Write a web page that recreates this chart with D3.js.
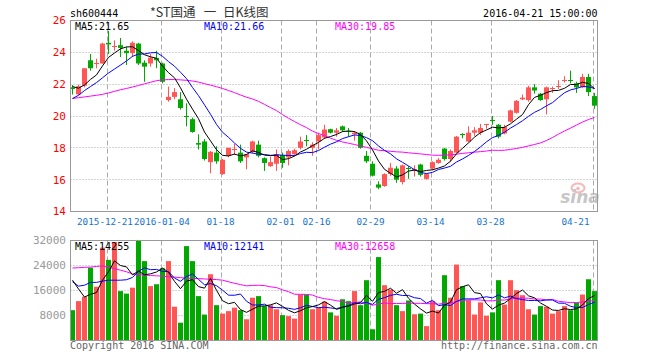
<!DOCTYPE html>
<html><head><meta charset="utf-8">
<script src="https://cdn.jsdelivr.net/npm/d3@7"></script>
<style>body{margin:0;background:#fff}svg{display:block}</style>
</head><body>
<svg id="c" width="660" height="360"></svg>
<script>
const open=[21.8,21.36,21.9,23.5,23.3,23.3,24.6,24.35,24.45,24.1,23.95,24.55,23.35,23.3,23.65,23.3,21.0,21.2,21.05,20.0,19.8,18.3,18.4,17.1,17.7,16.35,17.5,17.85,17.7,17.4,17.75,18.2,17.35,16.85,17.0,17.55,17.4,17.6,18.0,18.5,18.0,18.4,18.65,19.17,18.95,19.35,19.05,18.85,18.95,17.5,17.0,15.7,15.6,16.35,16.7,15.85,16.75,16.6,16.95,16.05,16.7,17.05,17.95,17.3,17.7,18.85,18.4,18.95,18.95,19.45,19.75,19.45,18.9,19.65,20.2,21.05,21.0,21.8,21.4,21.05,21.7,21.85,22.2,22.25,22.05,21.8,22.45,21.25];
const high=[21.95,21.97,23.0,23.9,23.6,24.6,25.35,24.75,24.9,24.35,24.7,24.6,23.5,23.9,24.1,23.35,21.85,21.75,21.5,20.8,19.9,18.85,18.55,17.8,18.1,17.3,18.0,18.25,18.2,17.6,18.45,18.45,17.4,17.45,17.9,17.7,17.9,17.95,18.7,18.8,18.35,18.95,19.45,19.2,19.25,19.4,19.25,19.05,19.0,17.8,17.15,15.9,16.4,17.05,16.85,16.95,16.85,16.9,17.0,16.4,17.15,17.35,18.0,17.9,18.75,18.92,19.35,19.3,19.5,19.5,20.0,19.5,19.45,20.4,21.0,21.35,21.9,22.0,21.45,21.85,21.85,22.25,22.5,22.85,22.15,22.65,22.65,21.45];
const low=[21.35,21.3,21.8,22.85,23.0,23.3,23.9,24.1,23.7,23.2,23.7,23.2,22.15,23.1,23.0,22.05,20.9,21.05,20.4,19.35,18.95,17.9,17.2,16.4,17.0,16.3,17.4,17.55,17.05,16.65,17.65,17.4,16.55,16.8,16.55,16.75,16.9,17.5,17.9,18.1,17.5,17.9,18.55,18.9,18.7,19.0,18.7,18.45,17.95,17.05,16.2,15.4,15.55,16.25,15.8,15.7,16.05,16.2,16.2,16.0,16.6,17.0,17.2,17.1,17.65,18.6,18.35,18.75,18.8,19.2,19.45,18.6,18.85,19.6,20.15,21.0,20.9,21.4,20.95,20.1,21.45,21.7,22.1,22.05,21.45,21.75,21.25,20.45];
const close=[21.7,21.87,23.0,23.0,23.35,24.55,24.5,24.4,24.28,23.95,24.6,23.3,23.1,23.67,23.5,22.15,21.2,21.5,20.5,19.95,19.0,18.2,17.3,17.75,17.15,17.25,18.0,17.92,17.15,17.6,18.4,17.5,17.05,17.1,17.6,17.05,17.8,17.85,18.4,18.45,18.2,18.8,19.15,18.95,19.1,19.1,19.0,18.95,18.0,17.15,16.25,15.5,16.35,16.75,16.0,16.9,16.7,16.65,16.3,16.35,17.1,17.25,17.3,17.8,18.7,18.8,18.95,19.1,19.25,19.5,19.7,18.7,19.3,20.35,20.95,21.15,21.8,21.6,21.0,21.8,21.75,21.9,22.25,22.2,21.8,22.45,21.5,20.65];
const volume=[9700,12600,14000,23300,17200,29700,25800,31500,15800,15000,16900,32000,25400,17400,18000,23100,25400,10800,5700,30200,25400,14200,8300,21200,11300,8600,9400,10500,9700,6800,13700,14200,11000,11300,10000,8100,7800,7000,14700,14700,10000,10500,12400,9000,7900,13200,12600,15800,11300,19300,3600,26700,17700,16300,11300,9400,12800,8400,8600,4600,12600,9700,20900,13700,24300,17400,12900,8300,12200,7900,9000,19300,11500,19300,16100,14500,10000,8300,11000,10800,8600,9400,11000,9700,12100,14700,19600,15800];
const ma5=[21.85,21.75,21.95,22.3,22.58,23.15,23.68,23.96,24.22,24.34,24.35,24.11,23.85,23.72,23.63,23.14,22.72,22.40,21.77,21.06,20.43,19.83,18.99,18.44,17.88,17.53,17.49,17.61,17.49,17.58,17.81,17.71,17.54,17.53,17.53,17.26,17.32,17.48,17.74,17.91,18.14,18.34,18.6,18.71,18.84,19.02,19.06,19.02,18.83,18.44,17.87,17.17,16.65,16.4,16.17,16.3,16.54,16.6,16.51,16.58,16.62,16.73,16.86,17.16,17.63,17.97,18.31,18.67,18.96,19.12,19.3,19.25,19.29,19.51,19.8,20.09,20.71,21.17,21.3,21.47,21.59,21.61,21.74,21.98,21.98,22.12,22.04,21.72];
const ma10=[21.1,21.3,21.6,21.85,22.1,22.4,22.7,22.95,23.2,23.46,23.75,23.89,23.9,23.97,23.99,23.75,23.42,23.13,22.75,22.35,21.79,21.28,20.7,20.11,19.47,18.98,18.66,18.3,17.97,17.73,17.67,17.6,17.58,17.51,17.56,17.54,17.52,17.51,17.64,17.72,17.7,17.83,18.04,18.23,18.38,18.58,18.7,18.81,18.77,18.64,18.45,18.12,17.84,17.62,17.31,17.09,16.86,16.63,16.46,16.38,16.46,16.64,16.73,16.84,17.11,17.3,17.52,17.77,18.06,18.38,18.64,18.78,18.98,19.24,19.46,19.7,19.98,20.23,20.41,20.64,20.84,21.16,21.46,21.64,21.73,21.86,21.83,21.73];
const ma30=[21.1,21.15,21.2,21.25,21.3,21.36,21.45,21.55,21.65,21.73,21.82,21.92,22.02,22.12,22.22,22.27,22.29,22.29,22.27,22.24,22.2,22.13,22.03,21.94,21.84,21.73,21.6,21.47,21.32,21.18,21.07,20.92,20.73,20.53,20.34,20.09,19.86,19.65,19.45,19.27,19.05,18.9,18.77,18.61,18.47,18.37,18.29,18.21,18.12,18.03,17.94,17.85,17.82,17.78,17.75,17.73,17.69,17.65,17.62,17.58,17.54,17.53,17.54,17.56,17.6,17.65,17.69,17.73,17.76,17.8,17.85,17.84,17.85,17.9,17.96,18.03,18.12,18.21,18.31,18.46,18.65,18.86,19.06,19.24,19.43,19.62,19.78,19.91];
const vma5=[19300,16500,13900,14800,15340,19330,21980,25480,23990,23560,21000,22240,21020,21340,21930,23170,21850,18930,16580,19010,19480,17240,16750,19860,16090,12740,11780,12210,9900,9010,10010,10970,11080,11400,12040,10930,9650,8860,9540,10480,10860,11390,12460,11310,9950,10590,11010,11690,12160,14450,12530,15340,15730,16730,15130,16280,13510,11650,10110,8770,9410,8790,11290,12290,16240,17200,17840,15320,15020,11740,10050,11330,11970,13400,15040,16150,14300,13660,11990,10930,9750,9620,10160,9900,10160,11370,13420,14380];
const vma10=[18800,17400,17700,18600,18600,19000,19300,19300,19300,19450,20170,22110,23250,22660,22750,22090,22040,19970,18960,20470,21330,19550,17840,18220,17550,16110,14510,14480,14880,12550,11370,11370,11640,10650,10520,10470,10310,9970,10470,11260,10890,10520,10660,10420,10210,10720,11200,12080,11740,12200,11560,13180,13710,14450,14790,14400,14420,13690,13420,11950,12850,11150,11470,11200,12510,13310,13320,13310,13660,13990,13630,14590,13650,14210,13390,13100,12810,12810,12700,12980,12950,11960,11910,10950,10540,10560,11520,12270];
const vma30=[23200,23300,23400,23500,23700,23900,23400,23000,22500,22000,21300,21100,20900,20800,20700,20600,20400,20300,20100,20000,19900,19800,19700,19600,19500,19300,18800,18300,17900,17490,17620,17680,17580,17180,16940,16220,15620,14810,14770,14760,14530,13810,13380,13100,12760,12430,12010,12170,12360,12000,11270,11690,12000,11840,11840,11860,11980,11910,11880,11800,11760,11620,11950,12020,12500,12810,12980,13020,12940,12710,12680,12970,12940,13290,13560,13600,13520,13270,13260,12970,13140,12560,12340,12120,12150,12320,12550,12800];
const tickIdx=[6,15,25,35,41,50,60,70,87];
const tickLabels=['2015-12-21','2016-01-04','01-18','02-01','02-16','02-29','03-14','03-28','04-21'];
const priceTicks=[14,16,18,20,22,24,26];
const volTicks=[8000,16000,24000,32000];
const priceLegend=['MA5:21.65','MA10:21.66','MA30:19.85'];
const volLegend=['MA5:14255','MA10:12141','MA30:12658'];
const titleCode='sh600444', titleParts=['*ST国通','一','日K线图'], stamp='2016-04-21 15:00:00';

const RED='#ff5555', GREEN='#00a800', GRID='#aaaaaa', BORDER='#999999';
const MONO='"DejaVu Sans Mono", monospace';
const svg=d3.select('#c');
svg.append('rect').attr('width',660).attr('height',360).attr('fill','#fff');
const L=70.5,R=597.5,T1=20.5,B1=211.5,T2=240.5,B2=340.5;
const n=close.length;
const x=d3.scaleLinear().domain([0,n-1]).range([72.5,594.5]);
const y=d3.scaleLinear().domain([14,26]).range([B1,T1]);
const yv=d3.scaleLinear().domain([0,32000]).range([B2,T2]);
const col=i=>close[i]>=open[i]?RED:GREEN;

function panel(top,bottom,ys,ticks,isPrice){
  const g=svg.append('g');
  ticks.forEach(t=>{const yy=Math.round(ys(t)-0.5)+0.5; if(yy>top+1&&yy<bottom-1)
    g.append('line').attr('x1',L).attr('x2',R).attr('y1',yy).attr('y2',yy)
     .attr('stroke',GRID).attr('stroke-dasharray','1,2');});
  tickIdx.forEach(i=>{const xx=Math.round(x(i)-2)+0.5;
    g.append('line').attr('x1',xx).attr('x2',xx).attr('y1',top).attr('y2',bottom)
     .attr('stroke',GRID).attr('stroke-dasharray','5,3');});
  ticks.forEach(t=>{g.append('text').attr('x',66).attr('y',ys(t)).attr('dy','0.36em')
     .attr('text-anchor','end').attr('font-family',MONO).attr('font-size',11)
     .attr('fill',isPrice?'#ff0000':'#999999').text(t);});
  return g;
}
panel(T1,B1,y,priceTicks,true);
panel(T2,B2,yv,volTicks,false);

const cg=svg.append('g');
close.forEach((c,i)=>{
  const cx=x(i), color=col(i);
  cg.append('line').attr('x1',cx).attr('x2',cx).attr('y1',y(high[i])).attr('y2',y(low[i])).attr('stroke',color);
  const top=y(Math.max(open[i],c)), bot=y(Math.min(open[i],c));
  if(bot-top<1.5){cg.append('line').attr('x1',cx-2.5).attr('x2',cx+2.5).attr('y1',Math.round(top)+0.5).attr('y2',Math.round(top)+0.5).attr('stroke',color);}
  else cg.append('rect').attr('x',cx-2.5).attr('width',5).attr('y',top).attr('height',bot-top).attr('fill',color);
});
volume.forEach((v,i)=>{
  svg.append('rect').attr('x',x(i)-2.5).attr('width',5).attr('y',yv(v)).attr('height',B2-yv(v)).attr('fill',col(i));
});
const lineP=d3.line().x((d,i)=>x(i)).y(d=>y(d));
const lineV=d3.line().x((d,i)=>x(i)).y(d=>yv(d));
const lineCols=['#000000','#0000ff','#ff00ff'];
svg.append('clipPath').attr('id','cp').append('rect').attr('x',L).attr('y',T1).attr('width',R-L).attr('height',B1-T1);
svg.append('clipPath').attr('id','cv').append('rect').attr('x',L).attr('y',T2).attr('width',R-L).attr('height',B2-T2);
[ma30,ma10,ma5].forEach((s,k)=>svg.append('path').attr('d',lineP(s)).attr('fill','none').attr('stroke',lineCols[2-k]).attr('stroke-width',1).attr('clip-path','url(#cp)'));
[vma30,vma10,vma5].forEach((s,k)=>svg.append('path').attr('d',lineV(s)).attr('fill','none').attr('stroke',lineCols[2-k]).attr('stroke-width',1).attr('clip-path','url(#cv)'));

[[T1,B1],[T2,B2]].forEach(([t,b])=>svg.append('rect').attr('x',L).attr('y',t).attr('width',R-L).attr('height',b-t).attr('fill','none').attr('stroke',BORDER));

const legX=[75,204,335];
priceLegend.forEach((s,k)=>svg.append('text').attr('x',legX[k]).attr('y',30).attr('font-family',MONO).attr('font-size',10).attr('fill',lineCols[k]).text(s));
volLegend.forEach((s,k)=>svg.append('text').attr('x',legX[k]).attr('y',249.5).attr('font-family',MONO).attr('font-size',10).attr('fill',lineCols[k]).text(s));

// x labels (slightly narrowed so neighbours do not collide)
const xl=tickIdx.map((i,k)=>{const w=tickLabels[k].length*5.6;return {k,w,c:Math.min(x(i)-2,R-8-w/2)};});
for(let k=1;k<xl.length;k++){const gap=(xl[k].c-xl[k].w/2)-(xl[k-1].c+xl[k-1].w/2);
  if(gap<1){const d=(1-gap)/2; xl[k-1].c-=d; xl[k].c+=d;}}
xl.forEach(o=>svg.append('text').attr('x',o.c).attr('y',224.5).attr('text-anchor','middle')
  .attr('font-family',MONO).attr('font-size',9.3).attr('fill','#1874cd').text(tickLabels[o.k]));

svg.append('text').attr('x',70).attr('y',16.5).attr('font-family',MONO).attr('font-size',10).attr('fill','#000').text(titleCode);
const CJK='"Noto Sans CJK SC", sans-serif';
svg.append('text').attr('x',150).attr('y',17).attr('font-family',CJK).attr('font-size',12.5).attr('fill','#333').text(titleParts[0]);
svg.append('text').attr('x',210).attr('y',17).attr('text-anchor','middle').attr('font-family',CJK).attr('font-size',12.5).attr('fill','#333').text(titleParts[1]);
svg.append('text').attr('x',223).attr('y',17).attr('font-family',CJK).attr('font-size',12.5).attr('fill','#333').text(titleParts[2]);
svg.append('text').attr('x',R).attr('y',16.5).attr('text-anchor','end').attr('font-family',MONO).attr('font-size',10).attr('fill','#000').text(stamp);

svg.append('text').attr('x',70).attr('y',349).attr('font-family',MONO).attr('font-size',10).attr('fill','#666').text('Copyright 2016 SINA.COM');
svg.append('text').attr('x',R).attr('y',349).attr('text-anchor','end').attr('font-family',MONO).attr('font-size',10).attr('fill','#666').text('http://finance.sina.com.cn');

const wm=svg.append('g').attr('opacity',0.55);
wm.append('ellipse').attr('cx',578).attr('cy',188).attr('rx',6.5).attr('ry',4.5).attr('fill','none').attr('stroke','#f08080').attr('stroke-width',2);
wm.append('circle').attr('cx',578).attr('cy',188.5).attr('r',1.8).attr('fill','#f08080');
wm.append('text').attr('x',580).attr('y',203).attr('text-anchor','middle').attr('font-family','"DejaVu Sans", sans-serif').attr('font-weight','bold').attr('font-style','italic').attr('font-size',17).attr('fill','#999').text('sina');
</script>
</body></html>
